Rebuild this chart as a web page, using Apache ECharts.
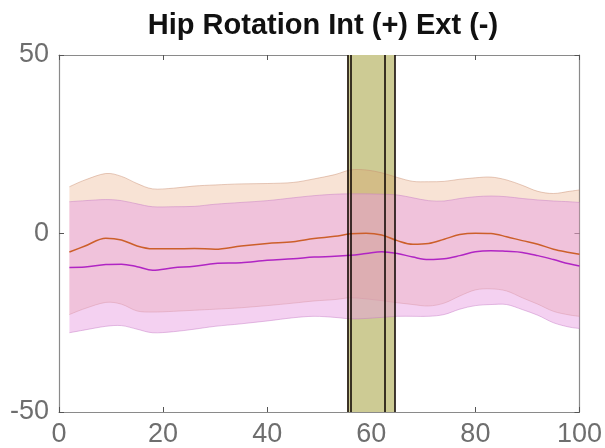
<!DOCTYPE html>
<html>
<head>
<meta charset="utf-8">
<script src="https://cdn.jsdelivr.net/npm/echarts@6/dist/echarts.min.js"></script>
<style>
  html, body { margin: 0; padding: 0; background: #fff; }
  #chart { width: 605px; height: 448px; }
</style>
</head>
<body>
<div id="chart"></div>
<script>
// Gait cycle (%) sample points
const cycle = [2, 5, 9, 12, 15, 18, 22, 26, 30, 35, 40, 45, 49, 53, 56, 59, 62, 65, 68, 71, 74, 77, 80, 83, 86, 89, 92, 95, 98, 100];

// Orange trace: mean and +/- band (deg)
const orangeMean  = [-5.2, -3.5, -1.3, -1.8, -3.5, -4.3, -4.3, -4.2, -4.4, -3.5, -2.8, -2.3, -1.4, -0.8, -0.1, 0.1, -0.4, -2.0, -3.0, -2.8, -1.6, -0.3, 0.1, 0.0, -0.9, -2.0, -3.0, -4.4, -5.3, -5.8];
const orangeUpper = [13.1, 15.0, 16.8, 16.0, 14.0, 12.5, 12.7, 13.3, 13.6, 13.9, 14.0, 14.3, 15.3, 16.5, 17.8, 17.8, 17.0, 15.7, 14.6, 14.5, 14.6, 15.2, 15.6, 15.8, 15.0, 13.5, 11.8, 11.2, 11.8, 12.2];
const orangeLower = [-22.7, -21.0, -19.3, -19.8, -21.7, -22.0, -21.8, -21.5, -21.2, -20.8, -20.2, -19.5, -18.9, -18.5, -18.0, -18.3, -18.8, -19.4, -19.9, -20.3, -19.5, -17.5, -15.8, -15.5, -16.1, -18.0, -19.8, -21.8, -22.8, -23.2];

// Magenta trace: mean and +/- band (deg)
const magentaMean  = [-9.5, -9.4, -8.7, -8.6, -9.3, -10.3, -9.6, -9.2, -8.4, -8.2, -7.5, -7.1, -6.6, -6.4, -6.1, -5.6, -5.1, -5.6, -6.6, -7.3, -7.1, -6.2, -5.1, -4.8, -5.0, -5.3, -6.2, -7.3, -8.5, -9.1];
const magentaUpper = [8.9, 9.2, 9.5, 9.2, 8.3, 7.5, 7.5, 7.6, 8.2, 8.7, 9.2, 10.0, 10.6, 11.0, 11.1, 11.1, 11.0, 10.8, 10.0, 9.2, 9.1, 9.8, 10.3, 10.5, 10.3, 9.8, 9.4, 9.1, 8.9, 8.7];
const magentaLower = [-27.8, -27.0, -26.0, -25.8, -26.8, -27.8, -27.5, -26.8, -26.0, -25.3, -24.5, -23.6, -23.2, -23.5, -23.9, -23.8, -23.5, -23.2, -23.2, -23.2, -22.7, -21.2, -20.2, -19.9, -19.9, -21.3, -22.9, -25.0, -26.2, -26.6];

// Shaded event window and event markers (% cycle)
const windowRange = [55.4, 64.5];
const eventLines = [55.4, 56.1, 62.6, 64.5];

// Axis ticks
const xTicks = [0, 20, 40, 60, 80, 100];
const yTicks = [-50, 0, 50];

const pairs = (ys) => cycle.map((x, i) => [x, ys[i]]);

const AXIS_GRAY = '#8a8a8a';
const LABEL_GRAY = '#6e6e6e';
const SMOOTH = 0.35;

// Smooth path through pixel points (Catmull-Rom -> cubic Bezier)
function curveSegments(pts, startWithMove) {
  let d = (startWithMove ? 'M' : 'L') + pts[0][0] + ',' + pts[0][1];
  for (let i = 0; i < pts.length - 1; i++) {
    const p0 = pts[Math.max(i - 1, 0)];
    const p1 = pts[i];
    const p2 = pts[i + 1];
    const p3 = pts[Math.min(i + 2, pts.length - 1)];
    const c1 = [p1[0] + (p2[0] - p0[0]) / 6, p1[1] + (p2[1] - p0[1]) / 6];
    const c2 = [p2[0] - (p3[0] - p1[0]) / 6, p2[1] - (p3[1] - p1[1]) / 6];
    d += 'C' + c1[0] + ',' + c1[1] + ' ' + c2[0] + ',' + c2[1] + ' ' + p2[0] + ',' + p2[1];
  }
  return d;
}

// Shaded band between an upper and lower curve, drawn through the grid's scales
function bandSeries(upper, lower, fill, fillOpacity, edge, z) {
  return {
    type: 'custom', z: z, silent: true,
    data: [0],
    renderItem: function (params, api) {
      const up = cycle.map((x, i) => api.coord([x, upper[i]]));
      const lo = cycle.map((x, i) => api.coord([x, lower[i]])).reverse();
      const area = curveSegments(up, true) + curveSegments(lo, false) + 'Z';
      return {
        type: 'group',
        children: [
          { type: 'path', shape: { pathData: area }, style: { fill: fill, opacity: fillOpacity, stroke: null } },
          { type: 'path', shape: { pathData: curveSegments(up, true) }, style: { fill: null, stroke: edge, lineWidth: 1 } },
          { type: 'path', shape: { pathData: curveSegments(lo, true) }, style: { fill: null, stroke: edge, lineWidth: 1 } }
        ]
      };
    }
  };
}

const chart = echarts.init(document.getElementById('chart'), null, { renderer: 'canvas' });

const axisCommon = {
  axisLine: { show: true, onZero: false, lineStyle: { color: AXIS_GRAY, width: 1.2 } },
  axisTick: { show: true, inside: true, length: 5, lineStyle: { color: '#555', width: 1 } },
  splitLine: { show: false }
};
const labelFont = { color: LABEL_GRAY, fontFamily: 'Liberation Sans', fontSize: 27 };

chart.setOption({
  animation: false,
  backgroundColor: '#ffffff',
  title: {
    text: 'Hip Rotation Int (+) Ext (-)',
    left: 318, top: 6, textAlign: 'center',
    textStyle: { fontFamily: 'Liberation Sans', fontWeight: 'bold', fontSize: 29, color: '#111' }
  },
  grid: { left: 59, right: 23, top: 55, bottom: 36 },
  xAxis: [
    Object.assign({
      type: 'value', min: 0, max: 100, interval: 20, position: 'bottom',
      axisLabel: Object.assign({ show: true, margin: 9,
        formatter: (v) => xTicks.includes(v) ? String(v) : '' }, labelFont)
    }, axisCommon),
    Object.assign({
      type: 'value', min: 0, max: 100, interval: 20, position: 'top',
      axisLabel: { show: false }
    }, axisCommon)
  ],
  yAxis: [
    Object.assign({
      type: 'value', min: -50, max: 50, interval: 50, position: 'left',
      axisLabel: Object.assign({ show: true, margin: 10,
        formatter: (v) => yTicks.includes(v) ? String(v) : '' }, labelFont)
    }, axisCommon),
    Object.assign({
      type: 'value', min: -50, max: 50, interval: 50, position: 'right',
      axisLabel: { show: false }
    }, axisCommon)
  ],
  series: [
    // event window
    {
      type: 'line', data: [], z: 1, silent: true,
      markArea: {
        silent: true,
        itemStyle: { color: '#cdcb94', opacity: 1 },
        data: [[{ xAxis: windowRange[0] }, { xAxis: windowRange[1] }]]
      }
    },
    bandSeries(orangeUpper, orangeLower, 'rgb(228,150,100)', 0.27, 'rgba(200,140,110,0.45)', 2),
    bandSeries(magentaUpper, magentaLower, 'rgb(232,158,226)', 0.48, 'rgba(195,120,195,0.45)', 3),
    // mean traces
    {
      type: 'line', data: pairs(orangeMean), smooth: SMOOTH, symbol: 'none', z: 4,
      lineStyle: { color: '#cc5f2a', width: 1.5 }
    },
    {
      type: 'line', data: pairs(magentaMean), smooth: SMOOTH, symbol: 'none', z: 4,
      lineStyle: { color: '#b025c4', width: 1.5 }
    },
    // event markers
    {
      type: 'line', data: [], z: 5, silent: true,
      markLine: {
        silent: true, symbol: 'none', label: { show: false },
        lineStyle: { color: '#140a06', width: 1.6, type: 'solid' },
        data: eventLines.map((x) => ({ xAxis: x }))
      }
    }
  ]
});
</script>
</body>
</html>
